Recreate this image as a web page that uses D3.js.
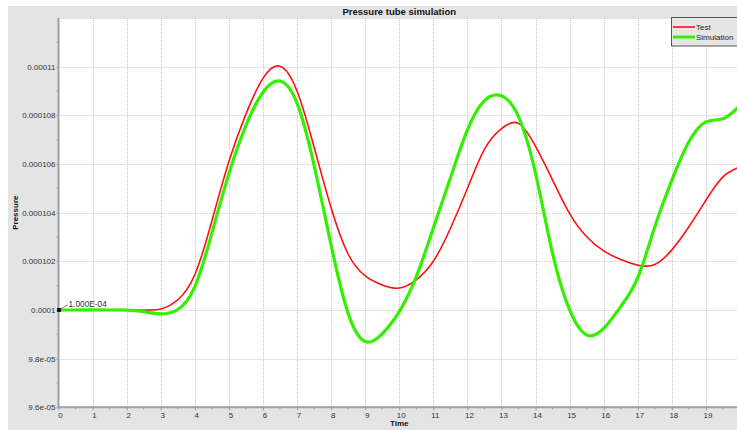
<!DOCTYPE html>
<html>
<head>
<meta charset="utf-8">
<script src="https://cdn.jsdelivr.net/npm/d3@7"></script>
<style>
  body { margin: 0; background: #fff; }
  svg { display: block; font-family: "Liberation Sans", Arial, sans-serif; }
</style>
</head>
<body>
<svg id="vis" width="737" height="430"></svg>
<script>
// sample times (s)
const times = [0, 0.5, 1, 1.5, 2, 2.5, 3, 3.5, 4, 4.5, 5, 5.5, 6, 6.5, 7, 7.5, 8, 8.5, 9, 9.5,
  10, 10.5, 11, 11.5, 12, 12.5, 13, 13.5, 14, 14.5, 15, 15.5, 16, 16.5, 17, 17.5, 18, 18.5, 19, 19.5, 20];

// pressure, in units of 1e-4
const testValues = [1.0000, 1.00002, 1.00004, 1.00003, 1.0000, 0.99998, 1.0004, 1.0042, 1.0145, 1.0365,
  1.0610, 1.0805, 1.0952, 1.1002, 1.0900, 1.0670, 1.0420, 1.0230, 1.0140, 1.0103,
  1.0090, 1.0124, 1.0200, 1.0335, 1.0499, 1.0660, 1.0745, 1.0767, 1.0672, 1.0534,
  1.0396, 1.0301, 1.0243, 1.0207, 1.0184, 1.0187, 1.0247, 1.0342, 1.0451, 1.0547, 1.0588];

const simValues = [1.0000, 1.0000, 1.00001, 0.99999, 0.99995, 0.9993, 0.9984, 1.0002, 1.0095, 1.0315,
  1.0560, 1.0758, 1.0895, 1.0941, 1.0850, 1.0595, 1.0267, 0.9986, 0.9870, 0.9902,
  0.9993, 1.0137, 1.0337, 1.0542, 1.0740, 1.0860, 1.0880, 1.0795, 1.0561, 1.0232,
  1.0000, 0.9897, 0.9924, 1.0014, 1.0133, 1.0342, 1.0533, 1.0691, 1.0773, 1.0786, 1.0840];

const xTicks = [0, 1, 2, 3, 4, 5, 6, 7, 8, 9, 10, 11, 12, 13, 14, 15, 16, 17, 18, 19, 20];
const xTickLabels = ['0', '1', '2', '3', '4', '5', '6', '7', '8', '9', '10',
  '11', '12', '13', '14', '15', '16', '17', '18', '19', '20'];
const yTicks = [0.96, 0.98, 1.00, 1.02, 1.04, 1.06, 1.08, 1.10];
const yTickLabels = ['9.6e-05', '9.8e-05', '0.0001', '0.000102', '0.000104', '0.000106', '0.000108', '0.00011'];

const seriesNames = ['Test', 'Simulation'];
const seriesColors = ['#ff1010', '#33f000'];
const seriesWidths = [1.6, 3.2];

const vis = d3.select('#vis');
const plotLeft = 58.5, plotRight = 740, plotTop = 18, plotBottom = 407.3;

const x = d3.scaleLinear().domain([0, 20]).range([plotLeft, plotRight]);
const y = d3.scaleLinear().domain([0.96, 1.12]).range([plotBottom, plotTop]);

// grey panel + white plot area
vis.append('rect').attr('x', 8).attr('y', 6).attr('width', 729).attr('height', 424).attr('fill', '#e4e4e4');
vis.append('rect').attr('x', plotLeft).attr('y', plotTop).attr('width', plotRight - plotLeft).attr('height', plotBottom - plotTop).attr('fill', '#fff');

vis.append('defs').append('clipPath').attr('id', 'plotClip')
  .append('rect').attr('x', plotLeft).attr('y', plotTop - 2).attr('width', plotRight - plotLeft).attr('height', plotBottom - plotTop + 2);

// title
vis.append('text')
  .attr('x', (plotLeft + plotRight) / 2).attr('y', 14.5)
  .attr('text-anchor', 'middle')
  .attr('font-size', 9.5).attr('font-weight', 'bold').attr('fill', '#111')
  .text('Pressure tube simulation');

// grid
const grid = vis.append('g').attr('stroke', '#c8c8c8').attr('stroke-width', 1).attr('stroke-dasharray', '1,1');
grid.selectAll('line.v').data(xTicks.slice(1)).enter().append('line').classed('v', true)
  .attr('x1', d => Math.round(x(d)) + 0.5).attr('x2', d => Math.round(x(d)) + 0.5)
  .attr('y1', plotTop).attr('y2', plotBottom);
grid.selectAll('line.h').data(yTicks.slice(1).concat([1.12])).enter().append('line').classed('h', true)
  .attr('x1', plotLeft).attr('x2', plotRight)
  .attr('y1', d => Math.round(y(d)) + 0.5).attr('y2', d => Math.round(y(d)) + 0.5);

// axes
const xAxis = d3.axisBottom(x).tickValues(xTicks).tickFormat((d, i) => xTickLabels[i]).tickSize(3).tickSizeOuter(0);
const gx = vis.append('g').attr('transform', `translate(0,${plotBottom})`).call(xAxis);
gx.select('.domain').remove();
gx.selectAll('.tick line').attr('stroke', '#9a9a9a');
gx.selectAll('.tick text').attr('font-size', 8).attr('fill', '#333').attr('font-family', null).attr('dx', 1.5).attr('dy', '0.55em');

const xMinor = vis.append('g').attr('stroke', '#9a9a9a');
xMinor.selectAll('line').data(xTicks.slice(0, -1)).enter().append('line')
  .attr('x1', d => x(d + 0.5)).attr('x2', d => x(d + 0.5))
  .attr('y1', plotBottom).attr('y2', plotBottom + 2);

const yAxis = d3.axisLeft(y).tickValues(yTicks).tickFormat((d, i) => yTickLabels[i]).tickSize(2).tickPadding(1).tickSizeOuter(0);
const gy = vis.append('g').attr('transform', `translate(${plotLeft},0)`).call(yAxis);
gy.select('.domain').remove();
gy.selectAll('.tick line').attr('stroke', '#9a9a9a');
gy.selectAll('.tick text').attr('font-size', 8).attr('fill', '#333').attr('font-family', null);

const yMinor = vis.append('g').attr('stroke', '#9a9a9a');
yMinor.selectAll('line').data(yTicks).enter().append('line')
  .attr('x1', plotLeft - 2).attr('x2', plotLeft)
  .attr('y1', d => y(d + 0.01)).attr('y2', d => y(d + 0.01));

vis.append('line').attr('x1', plotLeft).attr('x2', plotLeft).attr('y1', plotTop).attr('y2', plotBottom + 1)
  .attr('stroke', '#a0a0a0').attr('stroke-width', 2);
vis.append('line').attr('x1', plotLeft - 1).attr('x2', plotRight).attr('y1', plotBottom).attr('y2', plotBottom)
  .attr('stroke', '#a0a0a0').attr('stroke-width', 2);

// axis titles
vis.append('text')
  .attr('x', (plotLeft + plotRight) / 2).attr('y', 426)
  .attr('text-anchor', 'middle').attr('font-size', 8).attr('font-weight', 'bold').attr('fill', '#111')
  .text('Time');
vis.append('text')
  .attr('transform', `translate(17.5,${(plotTop + plotBottom) / 2}) rotate(-90)`)
  .attr('text-anchor', 'middle').attr('font-size', 8).attr('font-weight', 'bold').attr('fill', '#111')
  .text('Pressure');

// curves
const line = d3.line()
  .x(d => x(d[0]))
  .y(d => y(d[1]))
  .curve(d3.curveNatural);

const series = [testValues, simValues].map(vals => times.map((t, i) => [t, vals[i]]));

vis.append('g').attr('clip-path', 'url(#plotClip)')
  .selectAll('path').data(series).enter().append('path')
  .attr('d', line)
  .attr('fill', 'none')
  .attr('stroke', (d, i) => seriesColors[i])
  .attr('stroke-width', (d, i) => seriesWidths[i])
  .attr('stroke-linejoin', 'round');

// start value annotation
vis.append('line')
  .attr('x1', x(times[0]) + 2).attr('y1', y(testValues[0]) - 1)
  .attr('x2', x(times[0]) + 9).attr('y2', y(testValues[0]) - 5)
  .attr('stroke', '#777').attr('stroke-width', 1);
vis.append('rect')
  .attr('x', x(times[0]) - 1.5).attr('y', y(testValues[0]) - 2)
  .attr('width', 4).attr('height', 4).attr('fill', '#111');
vis.append('text')
  .attr('x', x(times[0]) + 10).attr('y', y(testValues[0]) - 2.5)
  .attr('font-size', 8.3).attr('fill', '#333')
  .text('1.000E-04');

// legend
const legend = vis.append('g').attr('transform', 'translate(671,17.5)');
legend.append('rect').attr('x', 0.5).attr('y', 0).attr('width', 80).attr('height', 28.5)
  .attr('fill', '#e6e6e6').attr('stroke', '#555').attr('stroke-width', 1);
const items = legend.selectAll('g.item').data(seriesNames).enter().append('g').classed('item', true)
  .attr('transform', (d, i) => `translate(0,${9.5 + i * 10})`);
items.append('line').attr('x1', 2).attr('x2', 24).attr('y1', 0).attr('y2', 0)
  .attr('stroke', (d, i) => seriesColors[i]).attr('stroke-width', (d, i) => i ? 3 : 1.6);
items.append('text').attr('x', 25).attr('y', 3).attr('font-size', 8).attr('fill', '#222')
  .text(d => d);
</script>
</body>
</html>
